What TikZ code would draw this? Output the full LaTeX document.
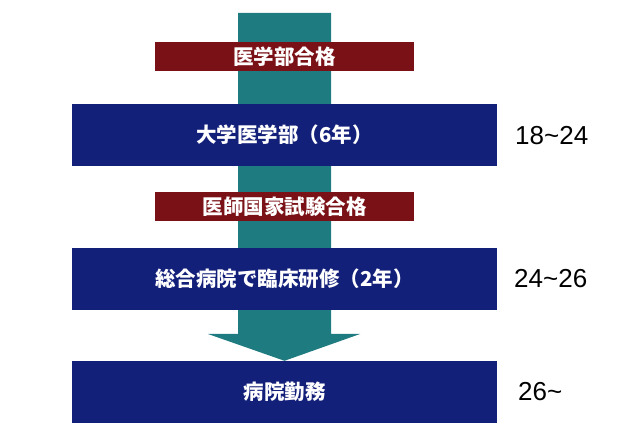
\documentclass[tikz,border=0pt]{standalone}
\usepackage{fontspec}
\newfontfamily\cjk{Noto Sans CJK JP}
\newfontfamily\numfont{Liberation Sans}
\definecolor{boxblue}{HTML}{13207A}
\definecolor{boxred}{HTML}{7A1116}
\definecolor{arrowteal}{HTML}{1E7B80}
\begin{document}
\begin{tikzpicture}[x=1pt,y=-1pt,
  bluebox/.style={fill=boxblue, minimum width=425pt, minimum height=62pt, inner sep=0pt,
    text=white, font=\cjk\bfseries\fontsize{20.5}{20.5}\selectfont},
  redbox/.style={fill=boxred, minimum width=259pt, minimum height=29pt, inner sep=0pt,
    text=white, font=\cjk\bfseries\fontsize{20.5}{20.5}\selectfont},
  agelabel/.style={anchor=west, inner sep=0pt, text=black, font=\numfont\fontsize{26}{26}\selectfont}]
\useasboundingbox[fill=white] (0,0) rectangle (640,446);
% nodes (positions)
\coordinate (top) at (284.5,13);
\path (284.5,392) node[bluebox, draw=none, fill=none] (b3tmp) {};
% big arrow (behind boxes)
\fill[arrowteal] ([xshift=-46.5pt]top) -- ([xshift=46.5pt]top) -- (331,334) -- (360,334)
  -- (b3tmp.north) -- (208,334) -- (238,334) -- cycle;
% boxes
\node[redbox] (r1) at (284.5,56.5) {医学部合格};
\node[bluebox] (b1) at (284.5,135) {大学医学部（6年）};
\node[redbox] (r2) at (284.5,206.5) {医師国家試験合格};
\node[bluebox] (b2) at (284.5,279) {総合病院で臨床研修（2年）};
\node[bluebox] (b3) at (284.5,392) {病院勤務};
% age labels
\node[agelabel] (a1) at (515,136) {18\char`~24};
\node[agelabel] (a2) at (514,279) {24\char`~26};
\node[agelabel] (a3) at (518,392) {26\char`~};
\end{tikzpicture}
\end{document}
